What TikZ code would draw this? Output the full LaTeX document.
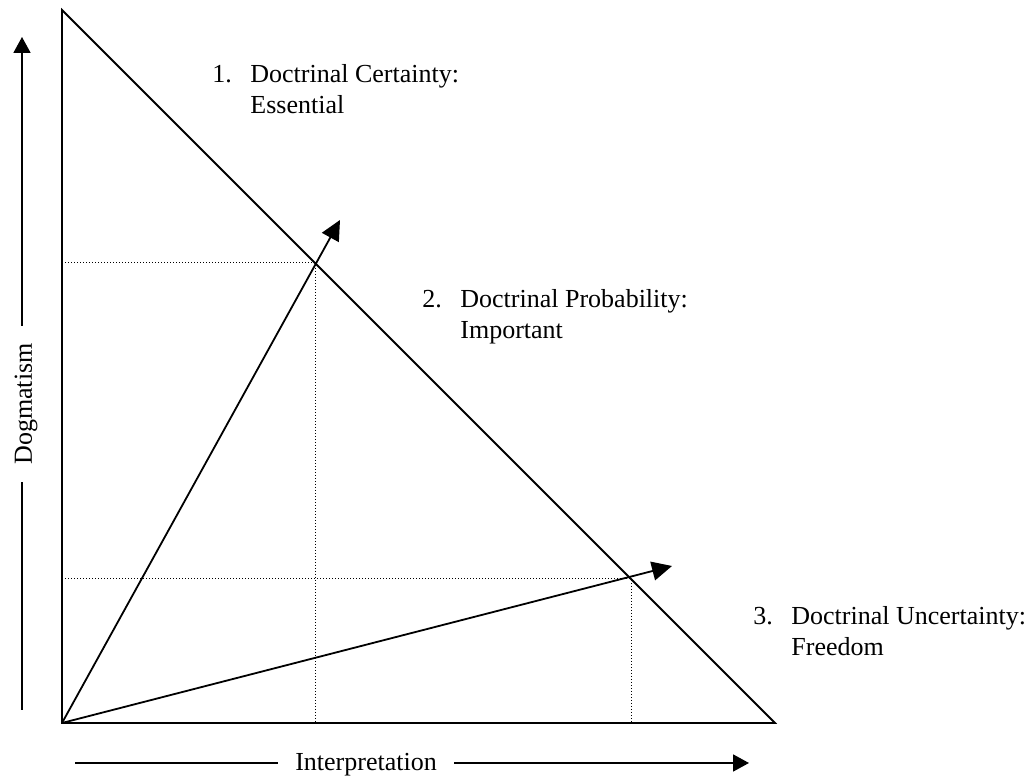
\documentclass[tikz,border=0pt]{standalone}
\usepackage{fontspec}
\setmainfont{Liberation Serif}
\usetikzlibrary{arrows.meta}
\tikzset{
  edge/.style={draw=black, line width=0.9pt},
  arr/.style={edge, -{Triangle[length=8pt,width=8.5pt]}},
  vec/.style={edge, -{Triangle[length=10pt,width=9.5pt]}},
  guide/.style={draw=black, line width=0.5pt, dash pattern=on 0.5pt off 1pt},
  lvl/.style={anchor=base west, inner sep=0pt, font=\fontsize{13}{15.5}\selectfont},
  axlbl/.style={inner sep=8.5pt, font=\fontsize{13}{15.5}\selectfont}
}
\newcommand{\lvltext}[3]{\begin{tabular}[t]{@{}l@{}l@{}}\makebox[19pt][l]{#1} & #2\\ & #3\end{tabular}}

\begin{document}
\begin{tikzpicture}[x=0.5pt,y=0.5pt]
  \useasboundingbox (0,0) rectangle (1033,780);
  % Triangle and its corners.
  \coordinate (O) at (62,57);
  \coordinate (T) at (62,770);
  \coordinate (R) at (775,57);
  \coordinate (P1) at (315,517);
  \coordinate (P2) at (631,201);
  \coordinate (A1) at (340,560);
  \coordinate (A2) at (672,214);
  \draw[edge, line join=miter] (T) -- (O) -- (R) -- cycle;
  \draw[guide] (O |- P1) -- (P1) -- (P1 |- O);
  \draw[guide] (O |- P2) -- (P2) -- (P2 |- O);
  \draw[vec] (O) -- (A1);
  \draw[vec] (O) -- (A2);
  % Levels.
  \node[lvl] (lvl1) at (212,697) {\lvltext{1.}{Doctrinal Certainty:}{Essential}};
  \node[lvl] (lvl2) at (422,472) {\lvltext{2.}{Doctrinal Probability:}{Important}};
  \node[lvl] (lvl3) at (753,155) {\lvltext{3.}{Doctrinal Uncertainty:}{Freedom}};
  % Axes.
  \coordinate (dogbot) at (22,70);
  \coordinate (dogtop) at (22,743);
  \node[axlbl, rotate=90, anchor=base] (dog) at (32,376) {Dogmatism};
  \draw[edge] (dogbot) -- (dogbot |- dog.west);
  \draw[arr] (dogbot |- dog.east) -- (dogtop);
  \coordinate (axL) at (75,17);
  \coordinate (axR) at (749,17);
  \node[axlbl, anchor=base] (interp) at (366,9) {Interpretation};
  \draw[edge] (axL) -- (axL -| interp.west);
  \draw[arr] (axR -| interp.east) -- (axR);
\end{tikzpicture}
\end{document}
